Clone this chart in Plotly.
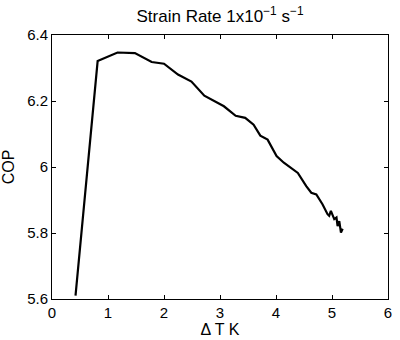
import plotly.graph_objects as go

delta_t = [0.42, 0.815, 1.17, 1.48, 1.78, 2.0, 2.25, 2.49, 2.72, 3.07, 3.28, 3.45, 3.60, 3.72,
           3.85, 4.01, 4.14, 4.31, 4.39, 4.54, 4.63, 4.72, 4.83, 4.92, 4.95, 4.98, 5.04,
           5.08, 5.10, 5.13, 5.16, 5.19]
cop = [5.61, 6.321, 6.347, 6.345, 6.318, 6.313, 6.280, 6.259, 6.216, 6.184, 6.155, 6.149,
       6.128, 6.095, 6.083, 6.033, 6.013, 5.993, 5.982, 5.942, 5.922, 5.917, 5.887, 5.857,
       5.852, 5.867, 5.842, 5.847, 5.821, 5.836, 5.801, 5.813]

x_ticks = [0, 1, 2, 3, 4, 5, 6]
y_ticks = [5.6, 5.8, 6.0, 6.2, 6.4]
y_tick_text = ["5.6", "5.8", "6", "6.2", "6.4"]

font = "Liberation Sans, Arial, sans-serif"

fig = go.Figure(go.Scatter(x=delta_t, y=cop, mode="lines",
                           line=dict(color="black", width=2.2)))

axis_common = dict(showline=True, linecolor="black", linewidth=1, mirror="ticks",
                   ticks="inside", ticklen=4, tickcolor="black", showgrid=False,
                   zeroline=False, tickfont=dict(family=font, size=15, color="black"))

fig.update_layout(
    width=400, height=340,
    margin=dict(l=52, r=8, t=35, b=40),
    paper_bgcolor="white", plot_bgcolor="white",
    showlegend=False,
    title=dict(text="Strain Rate 1x10<sup>\u22121</sup> s<sup>\u22121</sup>",
               font=dict(family=font, size=17, color="black"),
               x=0.5, xanchor="center", xref="paper",
               y=1 - 16 / 340, yanchor="middle", yref="container"),
    xaxis=dict(range=[0, 6], tickvals=x_ticks,
               title=dict(text="\u0394 T K", font=dict(family=font, size=16, color="black"),
                          standoff=0),
               **axis_common),
    yaxis=dict(range=[5.6, 6.4], tickvals=y_ticks, ticktext=y_tick_text,
               title=dict(text="COP", font=dict(family=font, size=16, color="black"),
                          standoff=8),
               **axis_common),
)

fig.write_html("out.html")
